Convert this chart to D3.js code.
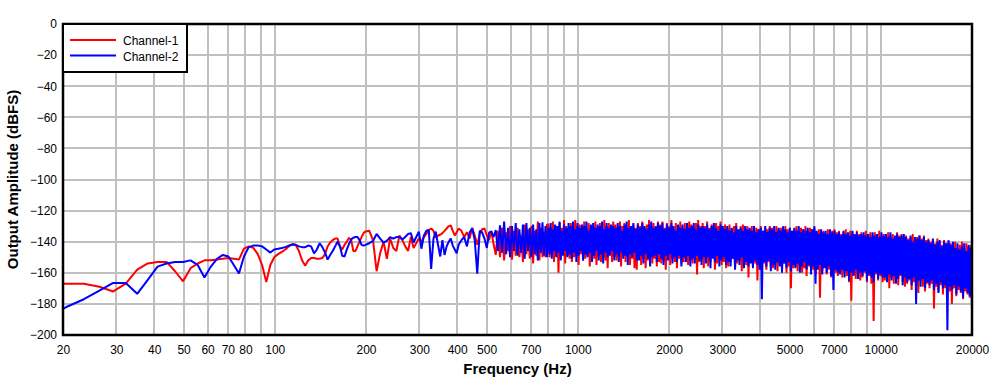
<!DOCTYPE html>
<html><head><meta charset="utf-8">
<script src="https://cdn.jsdelivr.net/npm/d3@7/dist/d3.min.js"></script>
<style>
body{margin:0;background:#fff;}
svg text{font-family:Arial,"Liberation Sans",sans-serif;}
</style></head><body>
<svg id="chart" width="1006" height="387"></svg>
<script>
// Low band: FFT bins (bin spacing binHz), blocks of bins
const binHz = 48000 / 16384;
const segStartBin = [6, 70, 141];
const segStepBin  = [1, 2, 3];
const segCount    = [63, 35, 44];
// Dense band: values spread evenly (log) between these frequencies
const denseFromHz = 800, denseToHz = 20000;

const seriesNames  = ["Channel-1", "Channel-2"];
const seriesColors = ["#ff0000", "#0000ff"];

// Channel-1 (dBFS), low band
const ch1Low = [
 -167,-167,-167,-169,-172,-167,-158,-154,-153,-153,
 -159,-165.5,-157,-154,-152,-152,-151.5,-151,-150.5,-151,
 -151.5,-144.5,-143,-144,-148,-155,-166,-155,-150,-148,
 -146.5,-145,-143,-141.5,-142,-146,-152,-155.5,-152,-150.5,
 -150.5,-151,-151,-150.5,-148,-143,-140.5,-139,-138,-138,
 -143,-145,-142,-140,-137.5,-139,-146,-146,-143,-140,
 -137,-134.5,-133.5,
 -133,-139,-159,-147.5,-140,-151,-138,-144,-146,-136,
 -139,-143,-146,-137,-144,-141,-138,-140,-137,-135,
 -132.5,-131.5,-133,-137.5,-136,-135.5,-134.5,-133,-131.5,-130,
 -129.5,-133,-136,-134,-131.5,
 -133,-137,-134,-138,-131,-136,-142,-135,-132,-131.5,
 -136,-139,-133,-141.5,-148.5,-133,-150,-131,-152,-134,
 -146,-130,-151.5,-133,-149,-131,-150,-136,-153,-129,
 -148,-132,-151,-130,-154,-133,-149,-127,-152,-131,
 -150,-134,-150,-129
];
// Channel-1 (dBFS), dense band 800 Hz - 20 kHz
const ch1Dense = [
 -129,-150,-131,-147,-127,-153,-130,-149,-132,-160,-128,-151,-131,-148,-126,-154,-130,-149,-133,-151,
 -128,-153,-132,-150,-126,-149,-130,-155,-129,-148,-131,-152,-127,-151,-132,-149,-128,-156,-130,-150,
 -130,-151,-127,-155,-131,-149,-128,-153,-132,-150,-126,-152,-130,-157,-128,-148,-131,-153,-127,-150,
 -129,-152,-131,-150,-127,-156,-130,-149,-128,-153,-132,-150,-126,-155,-130,-151,-129,-157,-131,-158,
 -128,-150,-130,-155,-127,-151,-131,-157,-129,-152,-126,-150,-130,-154,-128,-151,-132,-156,-127,-153,
 -129,-154,-127,-152,-131,-158,-128,-150,-130,-155,-126,-151,-132,-153,-128,-157,-130,-151,-127,-154,
 -131,-153,-128,-151,-130,-155,-127,-152,-129,-154,-131,-150,-128,-161,-126,-153,-130,-151,-128,-157,
 -130,-152,-127,-156,-131,-153,-129,-150,-132,-158,-128,-154,-130,-151,-127,-155,-131,-153,-129,-157,
 -131,-156,-129,-153,-132,-151,-130,-157,-128,-154,-133,-152,-130,-159,-129,-153,-131,-155,-130,-163,
 -132,-153,-130,-156,-133,-154,-131,-165,-132,-155,-130,-157,-133,-154,-131,-158,-132,-153,-130,-156,
 -131,-157,-133,-154,-130,-159,-132,-155,-131,-158,-133,-154,-130,-160,-132,-156,-131,-170,-133,-157,
 -132,-156,-130,-159,-133,-155,-131,-160,-132,-157,-130,-162,-133,-156,-131,-159,-132,-158,-131,-161,
 -134,-157,-132,-176,-134,-159,-133,-156,-135,-161,-132,-158,-134,-163,-133,-157,-132,-160,-134,-162,
 -133,-160,-135,-163,-134,-159,-132,-162,-135,-166,-133,-178,-134,-161,-136,-164,-133,-160,-135,-165,
 -134,-163,-136,-160,-133,-166,-135,-162,-134,-167,-136,-191,-134,-161,-135,-165,-133,-162,-136,-166,
 -135,-165,-137,-162,-134,-170,-136,-163,-135,-167,-137,-164,-134,-168,-136,-162,-135,-166,-137,-169,
 -136,-167,-138,-165,-137,-171,-135,-166,-139,-168,-137,-173,-136,-165,-138,-169,-136,-172,-139,-167,
 -138,-170,-140,-167,-139,-183,-141,-169,-138,-172,-140,-168,-142,-174,-139,-170,-141,-167,-140,-172,
 -141,-180,-143,-170,-140,-175,-144,-171,-142,-173,-140,-177,-145,-172,-141,-174,-143,-176,-142,-178
];

// Channel-2 (dBFS), low band
const ch2Low = [
 -189,-182,-177,-171.5,-166.5,-166.5,-173.5,-164.5,-156,-154,
 -153,-153,-152,-155,-163,-156,-151,-148.5,-149.5,-155,
 -160.5,-149.5,-143.5,-142.5,-142.5,-143,-145,-147,-145,-144.5,
 -144,-143.5,-142.5,-142,-142,-143,-143.5,-143.5,-142.5,-143,
 -147.5,-145,-141,-143.5,-147,-151.5,-148.5,-146,-143,-140,
 -143,-149,-149.5,-145,-141.5,-138.5,-137.5,-137,-137,-139,
 -142,-142.5,-142,
 -141,-139.5,-135,-138,-140.5,-139.5,-137,-138,-137,-137,
 -138.5,-137,-135,-134.5,-140.5,-137,-133.5,-144.5,-136,-133,
 -132.5,-157.5,-138,-133.5,-142,-149.5,-139,-148.5,-143,-140,
 -138,-142.5,-145,-147.5,-142,
 -139,-137,-143,-134,-131.5,-139,-160.5,-133,-134,-138,
 -144,-134,-133.5,-137,-132.5,-146,-129.5,-147,-127,-148,
 -131,-150,-130,-146,-128,-149,-132,-147,-129,-151,
 -128,-146,-131,-150,-129,-148,-132,-152,-128,-147,
 -127.5,-149,-130,-150
];
// Channel-2 (dBFS), dense band 800 Hz - 20 kHz
const ch2Dense = [
 -131,-148,-128,-151,-132,-146,-129,-150,-130,-147,-127,-152,-133,-149,-129,-146,-131,-150,-128,-148,
 -130,-151,-127,-147,-132,-153,-128,-149,-131,-146,-129,-152,-130,-148,-127,-150,-133,-147,-129,-153,
 -128,-149,-131,-146,-129,-152,-130,-148,-127,-154,-132,-147,-128,-150,-131,-149,-129,-146,-130,-152,
 -131,-148,-128,-153,-130,-147,-133,-151,-129,-149,-127,-155,-131,-148,-130,-150,-128,-147,-132,-152,
 -129,-152,-131,-149,-128,-154,-130,-148,-132,-151,-129,-156,-127,-150,-131,-149,-130,-153,-128,-148,
 -130,-151,-128,-155,-132,-149,-129,-152,-131,-148,-128,-154,-130,-150,-133,-153,-129,-149,-131,-156,
 -129,-150,-132,-153,-128,-149,-131,-156,-130,-151,-128,-154,-132,-149,-129,-152,-131,-155,-130,-150,
 -131,-154,-129,-150,-132,-157,-130,-151,-128,-153,-131,-149,-133,-156,-129,-152,-130,-150,-132,-155,
 -130,-153,-133,-156,-131,-151,-134,-158,-130,-152,-132,-155,-131,-150,-133,-157,-130,-153,-132,-156,
 -131,-154,-133,-157,-130,-152,-134,-155,-132,-158,-131,-177,-133,-153,-130,-156,-134,-152,-131,-159,
 -132,-155,-130,-158,-134,-153,-131,-156,-133,-160,-130,-154,-132,-157,-134,-153,-131,-159,-133,-155,
 -131,-157,-133,-154,-130,-160,-134,-156,-132,-153,-133,-158,-131,-155,-134,-161,-132,-156,-130,-167,
 -133,-158,-135,-155,-132,-161,-134,-157,-133,-160,-135,-156,-132,-162,-134,-171,-133,-158,-135,-160,
 -134,-161,-136,-158,-133,-163,-135,-159,-134,-165,-136,-160,-133,-162,-135,-158,-134,-164,-136,-160,
 -135,-162,-134,-159,-136,-165,-135,-161,-137,-163,-134,-166,-136,-160,-135,-164,-137,-161,-134,-163,
 -136,-163,-135,-166,-137,-161,-134,-165,-138,-162,-136,-167,-135,-164,-137,-161,-136,-168,-135,-163,
 -137,-166,-139,-164,-136,-168,-140,-163,-137,-180,-138,-165,-136,-169,-139,-164,-137,-170,-140,-166,
 -139,-168,-141,-165,-138,-171,-142,-167,-140,-173,-139,-166,-143,-170,-140,-168,-141,-197,-139,-169,
 -142,-171,-140,-168,-144,-174,-141,-169,-145,-172,-143,-176,-141,-170,-146,-173,-142,-175,-144,-183
];

const xTickValues = [20,30,40,50,60,70,80,100,200,300,400,500,700,1000,2000,3000,5000,7000,10000,20000];
const xGridValues = [30,40,50,60,70,80,90,100,200,300,400,500,600,700,800,900,1000,2000,3000,4000,5000,6000,7000,8000,9000,10000];
const yTickValues = [0,-20,-40,-60,-80,-100,-120,-140,-160,-180,-200];

// ---- frequencies of the typed values
const lowFreqs = [];
segStartBin.forEach((s, i) => {
  for (let j = 0; j < segCount[i]; j++) lowFreqs.push((s + j * segStepBin[i]) * binHz);
});
function densePoints(vals) {
  const n = vals.length;
  return vals.map((v, i) => ({ f: denseFromHz * Math.pow(denseToHz / denseFromHz, i / (n - 1)), v }));
}
function lowPoints(vals) {
  return vals.map((v, i) => ({ f: lowFreqs[i], v })).filter(d => d.f !== undefined);
}
const series = [[ch1Low, ch1Dense], [ch2Low, ch2Dense]].map((p, si) => ({
  name: seriesNames[si], color: seriesColors[si],
  points: lowPoints(p[0]).concat(densePoints(p[1]))
}));

const svg = d3.select("#chart");
const L = 63, R = 972, T = 24, B = 335;
const x = d3.scaleLog().domain([20, 20000]).range([L, R]);
const y = d3.scaleLinear().domain([-200, 0]).range([B, T]);

svg.append("rect").attr("width", 1006).attr("height", 387).attr("fill", "#fff");

svg.append("defs").append("clipPath").attr("id", "plotclip")
  .append("rect").attr("x", L).attr("y", T).attr("width", R - L).attr("height", B - T);

const grid = svg.append("g").attr("stroke", "#c0c0c0").attr("stroke-width", 2);
grid.selectAll("line.v").data(xGridValues).join("line").attr("class", "v")
  .attr("x1", d => Math.round(x(d))).attr("x2", d => Math.round(x(d))).attr("y1", T).attr("y2", B);
grid.selectAll("line.h").data(yTickValues.slice(1, -1)).join("line").attr("class", "h")
  .attr("x1", L).attr("x2", R).attr("y1", d => Math.round(y(d))).attr("y2", d => Math.round(y(d)));

const line = d3.line().x(d => x(d.f)).y(d => y(d.v));
svg.append("g").attr("clip-path", "url(#plotclip)")
  .selectAll("path").data(series).join("path")
  .attr("d", d => line(d.points))
  .attr("fill", "none").attr("stroke", d => d.color)
  .attr("stroke-width", 2).attr("stroke-linejoin", "bevel");

svg.append("rect").attr("x", L).attr("y", T).attr("width", R - L).attr("height", B - T)
  .attr("fill", "none").attr("stroke", "#000").attr("stroke-width", 2.5);

// axes (labels only)
const xAxis = svg.append("g").attr("transform", `translate(0,${B})`)
  .call(d3.axisBottom(x).tickValues(xTickValues).tickFormat(d3.format("d")).tickSize(0).tickPadding(10));
xAxis.select(".domain").remove();
xAxis.selectAll("text").attr("font-size", 12).attr("font-family", "Arial, 'Liberation Sans', sans-serif").attr("fill", "#000");

const yAxis = svg.append("g").attr("transform", `translate(${L},0)`)
  .call(d3.axisLeft(y).tickValues(yTickValues).tickFormat(d3.format("d")).tickSize(0).tickPadding(6));
yAxis.select(".domain").remove();
yAxis.selectAll("text").attr("font-size", 12).attr("font-family", "Arial, 'Liberation Sans', sans-serif").attr("fill", "#000");

svg.append("text").attr("x", (L + R) / 2).attr("y", 374).attr("text-anchor", "middle")
  .attr("font-size", 15).attr("font-weight", "bold").text("Frequency (Hz)");
svg.append("text").attr("transform", `translate(18,${(T + B) / 2}) rotate(-90)`).attr("text-anchor", "middle")
  .attr("font-size", 15).attr("font-weight", "bold").text("Output Amplitude (dBFS)");

// legend
const lg = svg.append("g");
lg.append("rect").attr("x", L).attr("y", T).attr("width", 124).attr("height", 48)
  .attr("fill", "#fff").attr("stroke", "#000").attr("stroke-width", 2);
series.forEach((s, i) => {
  const yy = 40 + i * 15.5;
  lg.append("line").attr("x1", 70).attr("x2", 116).attr("y1", yy).attr("y2", yy)
    .attr("stroke", s.color).attr("stroke-width", 2);
  lg.append("text").attr("x", 123).attr("y", yy + 5).attr("font-size", 12).attr("fill", "#000").text(s.name);
});
</script>
</body></html>
